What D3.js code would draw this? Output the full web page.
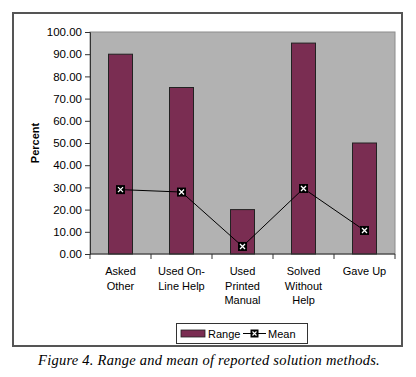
<!DOCTYPE html>
<html>
<head>
<meta charset="utf-8">
<script src="https://cdn.jsdelivr.net/npm/d3@7"></script>
<style>
  body { margin: 0; background: #fff; }
  svg text { font-family: "Liberation Sans", Arial, sans-serif; }
</style>
</head>
<body>
<svg id="chart" width="416" height="377"></svg>
<script>
// data
const categories = [["Asked", "Other"], ["Used On-", "Line Help"], ["Used", "Printed", "Manual"], ["Solved", "Without", "Help"], ["Gave Up"]];
const rangeVals = [90, 75, 20, 95, 50];
const meanVals = [29.0, 27.9, 3.4, 29.5, 10.6];
const yTicks = [0, 10, 20, 30, 40, 50, 60, 70, 80, 90, 100];

const svg = d3.select("#chart");
const plot = { left: 90, right: 395, top: 32, bottom: 254 };
const barColor = "#7a2d52";

// outer frame
svg.append("rect")
    .attr("x", 13).attr("y", 13)
    .attr("width", 389).attr("height", 333)
    .attr("fill", "#fff").attr("stroke", "#555").attr("stroke-width", 2);

const xb = d3.scaleBand()
    .domain(d3.range(categories.length))
    .range([plot.left, plot.right]);
const y = d3.scaleLinear().domain([0, 100]).range([plot.bottom, plot.top]);

// plot background
svg.append("rect")
    .attr("x", plot.left).attr("y", plot.top)
    .attr("width", plot.right - plot.left).attr("height", plot.bottom - plot.top)
    .attr("fill", "#b2b2b2").attr("stroke", "#8c8c8c").attr("stroke-width", 1);

// bars
svg.selectAll("rect.bar").data(rangeVals).enter().append("rect")
    .attr("class", "bar")
    .attr("x", (d, i) => xb(i) + xb.bandwidth() / 2 - 12)
    .attr("width", 24)
    .attr("y", d => y(d))
    .attr("height", d => y(0) - y(d))
    .attr("fill", barColor).attr("stroke", "#222").attr("stroke-width", 1);

// y axis
const yAxis = d3.axisLeft(y).tickValues(yTicks).tickFormat(d3.format(".2f")).tickSize(5).tickPadding(3);
const gy = svg.append("g").attr("transform", `translate(${plot.left},0)`).call(yAxis);
gy.select(".domain").attr("stroke", "#333");
gy.selectAll(".tick line").attr("stroke", "#333");
gy.selectAll("text").attr("font-size", 11.5).attr("fill", "#000");

// x axis with ticks between categories
const xAxis = svg.append("g");
xAxis.append("line")
    .attr("x1", plot.left).attr("x2", plot.right)
    .attr("y1", plot.bottom).attr("y2", plot.bottom)
    .attr("stroke", "#333");
xAxis.selectAll("line.tk").data(d3.range(categories.length + 1)).enter().append("line")
    .attr("class", "tk")
    .attr("x1", i => i < categories.length ? xb(i) : plot.right)
    .attr("x2", i => i < categories.length ? xb(i) : plot.right)
    .attr("y1", plot.bottom).attr("y2", plot.bottom + 5)
    .attr("stroke", "#333");
const lbl = xAxis.selectAll("text.cat").data(categories).enter().append("text")
    .attr("class", "cat")
    .attr("text-anchor", "middle")
    .attr("font-size", 11);
lbl.each(function (d, i) {
    d3.select(this).selectAll("tspan").data(d).enter().append("tspan")
        .attr("x", xb(i) + xb.bandwidth() / 2)
        .attr("y", (t, j) => 275 + j * 14.5)
        .text(t => t);
});

// mean line + markers
const line = d3.line()
    .x((d, i) => xb(i) + xb.bandwidth() / 2)
    .y(d => y(d));
svg.append("path").datum(meanVals)
    .attr("d", line).attr("fill", "none").attr("stroke", "#000").attr("stroke-width", 1);
const mk = svg.selectAll("g.mk").data(meanVals).enter().append("g")
    .attr("class", "mk")
    .attr("transform", (d, i) => `translate(${xb(i) + xb.bandwidth() / 2},${y(d)})`);
mk.append("rect").attr("x", -4.5).attr("y", -4.5).attr("width", 9).attr("height", 9).attr("fill", "#000");
mk.append("path").attr("d", "M-2.5,-2.5L2.5,2.5M-2.5,2.5L2.5,-2.5").attr("stroke", "#fff").attr("stroke-width", 1.3);

// y title
svg.append("text")
    .attr("transform", "translate(39,143) rotate(-90)")
    .attr("text-anchor", "middle")
    .attr("font-size", 11).attr("font-weight", "bold")
    .text("Percent");

// legend
const lg = svg.append("g");
lg.append("rect").attr("x", 176.5).attr("y", 323.5).attr("width", 131).attr("height", 20)
    .attr("fill", "#fff").attr("stroke", "#333").attr("stroke-width", 1);
lg.append("rect").attr("x", 181).attr("y", 330).attr("width", 24).attr("height", 7)
    .attr("fill", barColor).attr("stroke", "#222").attr("stroke-width", 0.8);
lg.append("text").attr("x", 208).attr("y", 337.5).attr("font-size", 11).text("Range");
lg.append("line").attr("x1", 243).attr("x2", 266).attr("y1", 333.5).attr("y2", 333.5).attr("stroke", "#000");
lg.append("rect").attr("x", 250.5).attr("y", 329.5).attr("width", 8).attr("height", 8).attr("fill", "#000");
lg.append("path").attr("d", "M252.5,331.5L256.5,335.5M252.5,335.5L256.5,331.5").attr("stroke", "#fff").attr("stroke-width", 1.1);
lg.append("text").attr("x", 268).attr("y", 337.5).attr("font-size", 11).text("Mean");

// caption
svg.append("text")
    .attr("x", 209).attr("y", 365)
    .attr("text-anchor", "middle")
    .style("font-family", "'Liberation Serif', 'Times New Roman', serif")
    .style("font-style", "italic").style("font-size", "14.5px")
    .style("letter-spacing", "0.25px")
    .text("Figure 4. Range and mean of reported solution methods.");
</script>
</body>
</html>
